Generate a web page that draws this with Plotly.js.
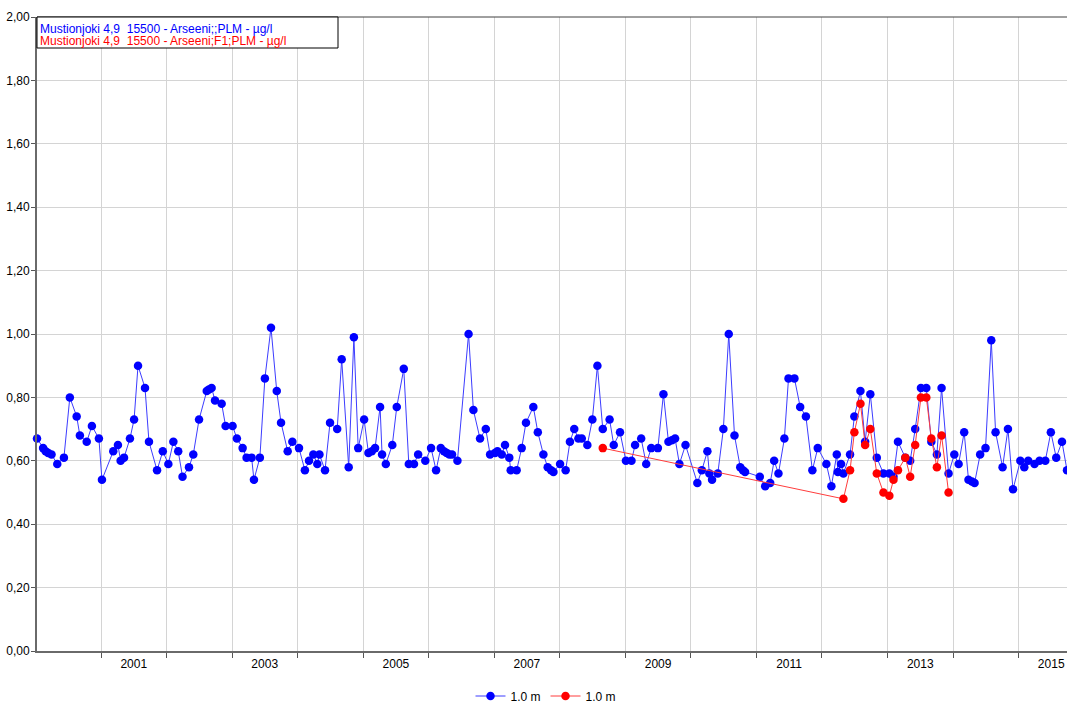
<!DOCTYPE html>
<html>
<head>
<meta charset="utf-8">
<script src="https://cdn.plot.ly/plotly-3.0.1.min.js"></script>
<style>
  html, body { margin: 0; padding: 0; background: #fff; }
  #chart { width: 1067px; height: 704px; }
</style>
</head>
<body>
<div id="chart"></div>
<script>
// ---- data ----
const blueDates = [
  '2000-01-10','2000-02-13','2000-02-27','2000-03-12','2000-03-31','2000-05-02','2000-06-08','2000-07-11','2000-08-18','2000-09-05','2000-10-13','2000-11-11','2000-12-20',
  '2001-01-06','2001-03-10','2001-04-05','2001-04-20','2001-05-09','2001-06-11','2001-07-04','2001-07-26','2001-09-03','2001-09-25','2001-11-09','2001-12-11',
  '2002-01-11','2002-02-08','2002-03-07','2002-03-31','2002-05-06','2002-05-30','2002-07-01','2002-08-13','2002-08-25','2002-09-09','2002-09-28','2002-11-04','2002-11-26',
  '2003-01-04','2003-01-28','2003-03-01','2003-03-23','2003-04-20','2003-05-03','2003-06-05','2003-07-03','2003-08-06','2003-09-07','2003-10-01','2003-11-07','2003-12-03',
  '2004-01-09','2004-02-11','2004-03-05','2004-03-29','2004-04-20','2004-05-02','2004-06-02','2004-06-30','2004-08-09','2004-09-03','2004-10-12','2004-11-10','2004-12-04',
  '2005-01-06','2005-01-30','2005-02-18','2005-03-08','2005-04-05','2005-04-16','2005-05-07','2005-06-12','2005-07-07','2005-08-15','2005-09-12','2005-10-11','2005-11-03','2005-12-13',
  '2006-01-14','2006-02-11','2006-03-09','2006-03-27','2006-04-11','2006-04-26','2006-05-11','2006-06-10','2006-08-11','2006-09-07','2006-10-14','2006-11-15','2006-12-09',
  '2007-01-06','2007-01-19','2007-02-12','2007-03-02','2007-03-26','2007-04-03','2007-05-06','2007-06-03','2007-06-27','2007-08-07','2007-09-01','2007-10-02','2007-10-26','2007-11-14','2007-11-27',
  '2008-01-03','2008-02-03','2008-02-27','2008-03-22','2008-04-14','2008-05-03','2008-06-03','2008-07-01','2008-07-29','2008-08-28','2008-10-05','2008-10-28','2008-12-02',
  '2009-01-04','2009-02-04','2009-02-24','2009-03-30','2009-04-27','2009-05-25','2009-07-01','2009-08-01','2009-08-29','2009-09-17','2009-10-05','2009-10-29','2009-12-02',
  '2010-02-06','2010-03-03','2010-04-03','2010-04-14','2010-04-29','2010-05-31','2010-07-01','2010-07-31','2010-09-01','2010-10-03','2010-10-18','2010-10-30',
  '2011-01-20','2011-02-19','2011-03-19','2011-04-10','2011-05-04','2011-06-06','2011-06-29','2011-08-01','2011-09-02','2011-10-04','2011-11-09','2011-12-09',
  '2012-01-26','2012-02-23','2012-03-24','2012-03-30','2012-04-17','2012-04-30','2012-06-06','2012-06-30','2012-08-03','2012-08-29','2012-09-27','2012-11-02','2012-12-09',
  '2013-01-11','2013-02-03','2013-02-28','2013-04-10','2013-05-07','2013-06-04','2013-07-06','2013-08-05','2013-09-02','2013-10-03','2013-10-29','2013-12-07',
  '2014-01-08','2014-02-01','2014-03-04','2014-03-28','2014-04-16','2014-05-01','2014-06-01','2014-07-01','2014-08-02','2014-08-26','2014-10-04','2014-11-03','2014-12-01',
  '2015-01-11','2015-02-02','2015-02-24','2015-03-31','2015-04-28','2015-05-30','2015-06-30','2015-07-30','2015-08-31','2015-09-28'
];
const blueValues = [
  0.67,0.64,0.63,0.625,0.62,0.59,0.61,0.80,0.74,0.68,0.66,0.71,0.67,
  0.54,0.63,0.65,0.60,0.61,0.67,0.73,0.90,0.83,0.66,0.57,0.63,
  0.59,0.66,0.63,0.55,0.58,0.62,0.73,0.82,0.825,0.83,0.79,0.78,0.71,
  0.71,0.67,0.64,0.61,0.61,0.54,0.61,0.86,1.02,0.82,0.72,0.63,0.66,
  0.64,0.57,0.60,0.62,0.59,0.62,0.57,0.72,0.70,0.92,0.58,0.99,0.64,
  0.73,0.625,0.63,0.64,0.77,0.62,0.59,0.65,0.77,0.89,0.59,0.59,0.62,0.60,
  0.64,0.57,0.64,0.63,0.625,0.62,0.62,0.60,1.00,0.76,0.67,0.70,0.62,
  0.625,0.63,0.62,0.65,0.61,0.57,0.57,0.64,0.72,0.77,0.69,0.62,0.58,0.57,0.565,
  0.59,0.57,0.66,0.70,0.67,0.67,0.65,0.73,0.90,0.70,0.73,0.65,0.69,
  0.60,0.60,0.65,0.67,0.59,0.64,0.64,0.81,0.66,0.665,0.67,0.59,0.65,
  0.53,0.57,0.63,0.56,0.54,0.56,0.70,1.00,0.68,0.58,0.57,0.565,
  0.55,0.52,0.53,0.60,0.56,0.67,0.86,0.86,0.77,0.74,0.57,0.64,
  0.59,0.52,0.62,0.565,0.59,0.56,0.62,0.74,0.82,0.66,0.81,0.61,0.56,
  0.56,0.55,0.66,0.61,0.60,0.70,0.83,0.83,0.66,0.62,0.83,0.56,
  0.62,0.59,0.69,0.54,0.535,0.53,0.62,0.64,0.98,0.69,0.58,0.70,0.51,
  0.60,0.58,0.60,0.59,0.60,0.60,0.69,0.61,0.66,0.57
];
const redDates = [
  '2008-08-28','2012-04-30','2012-06-06','2012-06-30','2012-08-03','2012-08-29','2012-09-27','2012-11-02','2012-12-09',
  '2013-01-11','2013-02-03','2013-02-28','2013-04-10','2013-05-07','2013-06-04','2013-07-06','2013-08-05','2013-09-02','2013-10-03','2013-10-29','2013-12-07'
];
const redValues = [
  0.64,0.48,0.57,0.69,0.78,0.65,0.70,0.56,0.50,
  0.49,0.54,0.57,0.61,0.55,0.65,0.80,0.80,0.67,0.58,0.68,0.50
];
const yearLabelDates = ['2001-07-02','2003-07-02','2005-07-02','2007-07-02','2009-07-02','2011-07-02','2013-07-02','2015-07-02'];
const yearLabels = ['2001','2003','2005','2007','2009','2011','2013','2015'];
const seriesNames = ['1.0 m','1.0 m'];
const boxTitles = ['Mustionjoki 4,9  15500 - Arseeni;;PLM - µg/l','Mustionjoki 4,9  15500 - Arseeni;F1;PLM - µg/l'];
const xRange = ['2000-01-10','2015-09-28'];

const FONT = 'Liberation Sans, Arial, sans-serif';
const BLUE = 'rgb(0,0,255)', RED = 'rgb(255,0,0)';

const traces = [
  {
    x: blueDates, y: blueValues, type: 'scatter', mode: 'lines+markers', name: seriesNames[0],
    line: {color: 'rgb(60,60,255)', width: 1},
    marker: {color: BLUE, size: 8.5, symbol: 'circle', line: {width: 0}},
    cliponaxis: false
  },
  {
    x: redDates, y: redValues, type: 'scatter', mode: 'lines+markers', name: seriesNames[1],
    line: {color: 'rgb(255,60,60)', width: 1},
    marker: {color: RED, size: 8.5, symbol: 'circle', line: {width: 0}},
    cliponaxis: false
  }
];

const plotL = 37, plotT = 17, plotW = 1030, plotH = 634;
const px = v => (v - plotL) / plotW;
const py = v => 1 - (v - plotT) / plotH;

const layout = {
  width: 1067, height: 704,
  margin: {l: plotL, r: 0, t: plotT, b: 704 - plotT - plotH, pad: 0, autoexpand: false},
  paper_bgcolor: '#fff', plot_bgcolor: '#fff',
  separators: ', ',
  font: {family: FONT, size: 12, color: '#000'},
  showlegend: true,
  legend: {
    orientation: 'h', x: px(546), xanchor: 'center', y: py(696), yanchor: 'middle',
    font: {family: FONT, size: 12, color: '#000'}, bgcolor: 'rgba(0,0,0,0)',
    itemwidth: 30, tracegroupgap: 0
  },
  xaxis: {
    type: 'date', range: xRange, autorange: false,
    tickmode: 'array', tickvals: yearLabelDates, ticktext: yearLabels,
    ticks: '', showgrid: false, zeroline: false,
    showline: true, linecolor: '#6a6a6a', linewidth: 2,
    ticklabelstandoff: 1,
    tickfont: {family: FONT, size: 12, color: '#000'},
    minor: {dtick: 'M12', tick0: '2000-01-01', showgrid: true, gridcolor: '#d4d4d4', gridwidth: 1,
            ticks: 'outside', ticklen: 5, tickcolor: '#555', tickwidth: 1},
    fixedrange: true
  },
  yaxis: {
    range: [0, 2], autorange: false, dtick: 0.2, tick0: 0, tickformat: '.2f',
    showgrid: true, gridcolor: '#d4d4d4', gridwidth: 1, zeroline: false,
    showline: true, linecolor: '#6a6a6a', linewidth: 2,
    ticks: 'outside', ticklen: 4, tickcolor: '#555', tickwidth: 1,
    ticklabelstandoff: -1,
    tickfont: {family: FONT, size: 12, color: '#000'},
    fixedrange: true
  },
  shapes: [
    {type: 'line', xref: 'paper', yref: 'paper', x0: 0, x1: 1, y0: 1, y1: 1,
     line: {color: '#404040', width: 1}},
    {type: 'rect', xref: 'paper', yref: 'paper', x0: 0, x1: px(338), y0: py(48), y1: 1,
     fillcolor: '#fff', line: {color: '#000', width: 1}, layer: 'above'}
  ],
  annotations: [
    {xref: 'paper', yref: 'paper', x: px(38), y: py(28.5), xanchor: 'left', yanchor: 'middle',
     text: boxTitles[0], showarrow: false, font: {family: FONT, size: 12, color: BLUE}},
    {xref: 'paper', yref: 'paper', x: px(38), y: py(41.5), xanchor: 'left', yanchor: 'middle',
     text: boxTitles[1], showarrow: false, font: {family: FONT, size: 12, color: RED}}
  ]
};

Plotly.newPlot('chart', traces, layout, {displayModeBar: false, staticPlot: true});
</script>
</body>
</html>
